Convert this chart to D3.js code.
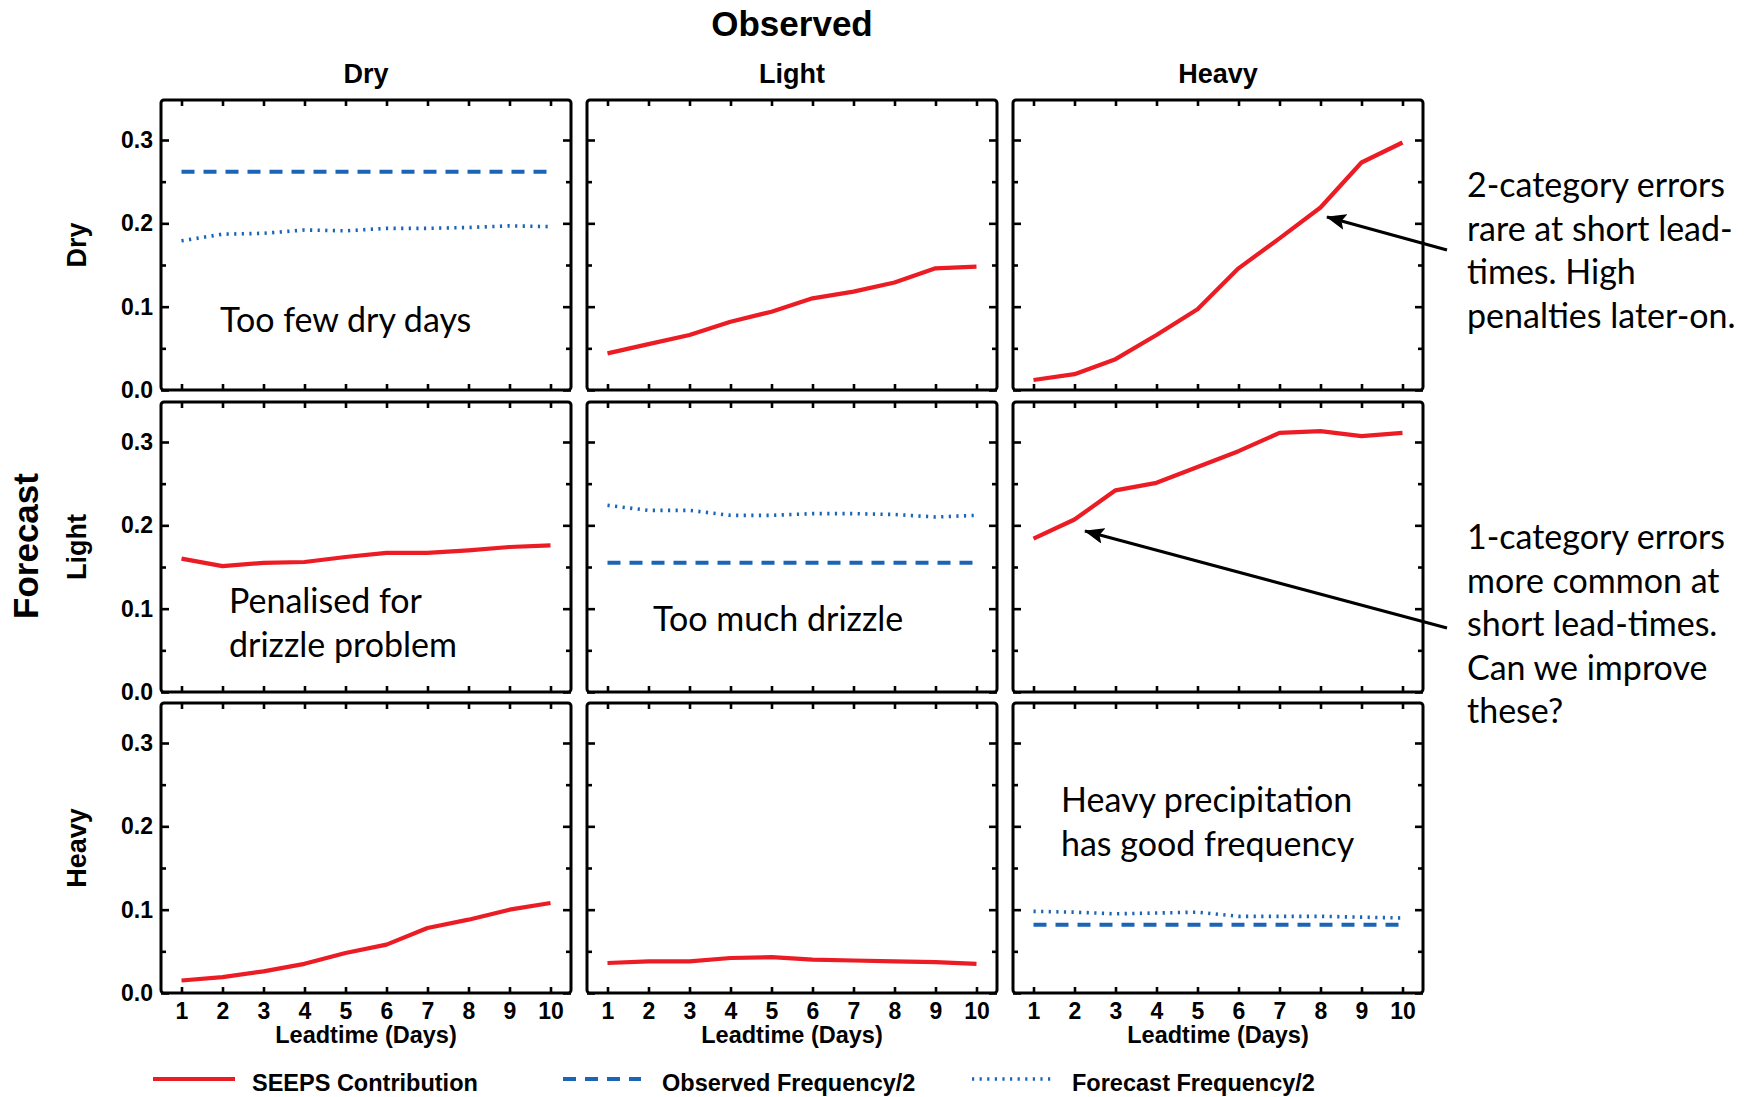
<!DOCTYPE html>
<html>
<head>
<meta charset="utf-8">
<script src="https://cdn.jsdelivr.net/npm/d3@7"></script>
<style>
  html, body { margin: 0; padding: 0; background: #fff; }
  svg { display: block; }
  .axis .tick text { font-family: "Liberation Sans", Arial, sans-serif; font-weight: bold; font-size: 23px; fill: #000; }
  .axis .tick line { stroke: #000; stroke-width: 2.6; }
  .axis path.domain { display: none; }
  .lbl { font-family: "Liberation Sans", Arial, sans-serif; font-weight: bold; fill: #000; }
  .note { font-family: Lato, "Open Sans", sans-serif; fill: #000; }
</style>
</head>
<body>
<svg id="chart" width="1756" height="1097"></svg>
<script>
// ---- data ---------------------------------------------------------------
const leadtimes = [1, 2, 3, 4, 5, 6, 7, 8, 9, 10];
const categories = ["Dry", "Light", "Heavy"];
const yMajorTicks = [0.0, 0.1, 0.2, 0.3];
const yMinorTicks = [0.05, 0.15, 0.25];

// SEEPS contribution per forecast/observed category pair
const seepsFcDryObsLight   = [0.044, 0.055, 0.066, 0.082, 0.094, 0.110, 0.118, 0.129, 0.146, 0.148];
const seepsFcDryObsHeavy   = [0.012, 0.019, 0.037, 0.066, 0.097, 0.146, 0.182, 0.219, 0.273, 0.297];
const seepsFcLightObsDry   = [0.160, 0.151, 0.155, 0.156, 0.162, 0.167, 0.167, 0.170, 0.174, 0.176];
const seepsFcLightObsHeavy = [0.184, 0.207, 0.242, 0.251, 0.270, 0.289, 0.311, 0.313, 0.307, 0.311];
const seepsFcHeavyObsDry   = [0.015, 0.019, 0.026, 0.035, 0.048, 0.058, 0.078, 0.088, 0.100, 0.108];
const seepsFcHeavyObsLight = [0.036, 0.038, 0.038, 0.042, 0.043, 0.040, 0.039, 0.038, 0.037, 0.035];

// observed frequency / 2 (constant over lead time), per category
const obsFreqHalf = [0.262, 0.155, 0.082];
// forecast frequency / 2, per category
const fcFreqHalfDry   = [0.179, 0.187, 0.188, 0.192, 0.191, 0.194, 0.194, 0.195, 0.197, 0.196];
const fcFreqHalfLight = [0.224, 0.218, 0.218, 0.212, 0.212, 0.214, 0.214, 0.213, 0.210, 0.212];
const fcFreqHalfHeavy = [0.098, 0.097, 0.095, 0.096, 0.097, 0.092, 0.092, 0.092, 0.091, 0.090];

const legendLabels = ["SEEPS Contribution", "Observed Frequency/2", "Forecast Frequency/2"];

// seeps[forecast][observed]; null on the diagonal
const seeps = [
  [null, seepsFcDryObsLight, seepsFcDryObsHeavy],
  [seepsFcLightObsDry, null, seepsFcLightObsHeavy],
  [seepsFcHeavyObsDry, seepsFcHeavyObsLight, null]
];
const fcFreqHalf = [fcFreqHalfDry, fcFreqHalfLight, fcFreqHalfHeavy];

// ---- layout -------------------------------------------------------------
const RED = "#ec1c24", BLUE = "#1c64b6";
const panelX = [161, 587, 1013];
const panelY = [100, 402, 703];
const W = 410, H = 290;

const svg = d3.select("#chart");
svg.append("rect").attr("width", 1756).attr("height", 1097).attr("fill", "#fff");

const x = d3.scaleLinear().domain([0.5, 10.5]).range([0, W]);
const y = d3.scaleLinear().domain([0, 0.348]).range([H, 0]);
const line = d3.line().x((d, i) => x(leadtimes[i])).y(d => y(d));

const styles = {
  seeps: { stroke: RED, width: 4.2, dash: null },
  obs:   { stroke: BLUE, width: 4, dash: "13,9" },
  fc:    { stroke: BLUE, width: 3.6, dash: "2.2,5.4" }
};
function drawSeries(g, values, st) {
  g.append("path")
    .datum(values)
    .attr("d", line)
    .attr("fill", "none")
    .attr("stroke", st.stroke)
    .attr("stroke-width", st.width)
    .attr("stroke-dasharray", st.dash)
    .attr("stroke-linejoin", "round");
}

categories.forEach((fcCat, r) => {
  categories.forEach((obsCat, c) => {
    const g = svg.append("g").attr("transform", `translate(${panelX[c]},${panelY[r]})`);

    // data
    if (r === c) {
      drawSeries(g, leadtimes.map(() => obsFreqHalf[c]), styles.obs);
      drawSeries(g, fcFreqHalf[r], styles.fc);
    } else {
      drawSeries(g, seeps[r][c], styles.seeps);
    }

    // inward ticks on all four sides
    const showX = r === 2, showY = c === 0;
    g.append("g").attr("class", "axis").attr("transform", `translate(0,${H})`)
      .call(d3.axisBottom(x).tickValues(leadtimes).tickSize(-6).tickPadding(10)
        .tickFormat(showX ? d3.format("d") : () => ""));
    g.append("g").attr("class", "axis")
      .call(d3.axisTop(x).tickValues(leadtimes).tickSize(-6).tickFormat(() => ""));
    g.append("g").attr("class", "axis")
      .call(d3.axisLeft(y).tickValues(yMajorTicks).tickSize(-8).tickPadding(8)
        .tickFormat(showY ? d3.format(".1f") : () => ""));
    g.append("g").attr("class", "axis")
      .call(d3.axisLeft(y).tickValues(yMinorTicks).tickSize(-5).tickFormat(() => ""));
    g.append("g").attr("class", "axis").attr("transform", `translate(${W},0)`)
      .call(d3.axisRight(y).tickValues(yMajorTicks).tickSize(-8).tickFormat(() => ""));
    g.append("g").attr("class", "axis").attr("transform", `translate(${W},0)`)
      .call(d3.axisRight(y).tickValues(yMinorTicks).tickSize(-5).tickFormat(() => ""));

    // frame
    g.append("rect").attr("width", W).attr("height", H).attr("rx", 3)
      .attr("fill", "none").attr("stroke", "#000").attr("stroke-width", 3);

    if (showX) {
      g.append("text").attr("class", "lbl")
        .attr("x", W / 2).attr("y", H + 50).attr("text-anchor", "middle")
        .attr("font-size", 23.5).text("Leadtime (Days)");
    }
  });
});

// column / row headings
svg.append("text").attr("class", "lbl").attr("x", 792).attr("y", 36)
  .attr("text-anchor", "middle").attr("font-size", 35).text("Observed");
categories.forEach((cat, c) => {
  svg.append("text").attr("class", "lbl")
    .attr("x", panelX[c] + W / 2).attr("y", 83).attr("text-anchor", "middle")
    .attr("font-size", 27).text(cat);
  svg.append("text").attr("class", "lbl")
    .attr("transform", `translate(86,${panelY[c] + H / 2}) rotate(-90)`)
    .attr("text-anchor", "middle").attr("font-size", 27).text(cat);
});
svg.append("text").attr("class", "lbl")
  .attr("transform", `translate(38,546) rotate(-90)`)
  .attr("text-anchor", "middle").attr("font-size", 35).text("Forecast");

// legend
const legendItems = [
  { x0: 153, x1: 235, tx: 252, st: styles.seeps },
  { x0: 563, x1: 641, tx: 662, st: styles.obs },
  { x0: 972, x1: 1053, tx: 1072, st: styles.fc }
];
legendItems.forEach((it, i) => {
  svg.append("line").attr("x1", it.x0).attr("x2", it.x1).attr("y1", 1079).attr("y2", 1079)
    .attr("stroke", it.st.stroke).attr("stroke-width", it.st.width)
    .attr("stroke-dasharray", it.st.dash);
  svg.append("text").attr("class", "lbl").attr("x", it.tx).attr("y", 1091)
    .attr("font-size", 23.5).text(legendLabels[i]);
});

// annotations
const notes = [
  { x: 220, y: 332, lines: ["Too few dry days"] },
  { x: 229, y: 613, lines: ["Penalised for", "drizzle problem"] },
  { x: 653, y: 631, lines: ["Too much drizzle"] },
  { x: 1061, y: 812, lines: ["Heavy precipitation", "has good frequency"] },
  { x: 1467, y: 197, lines: ["2-category errors", "rare at short lead-", "times. High", "penalties later-on."] },
  { x: 1467, y: 549, lines: ["1-category errors", "more common at", "short lead-times.", "Can we improve", "these?"] }
];
const noteSize = 34, noteLead = 43.5;
notes.forEach(n => {
  const t = svg.append("text").attr("class", "note").attr("font-size", noteSize);
  n.lines.forEach((s, i) => {
    t.append("tspan").attr("x", n.x).attr("y", n.y + i * noteLead).text(s);
  });
});

// arrows
svg.append("defs").append("marker")
  .attr("id", "head").attr("markerUnits", "userSpaceOnUse")
  .attr("viewBox", "0 0 20 16").attr("refX", 19).attr("refY", 8)
  .attr("markerWidth", 20).attr("markerHeight", 16).attr("orient", "auto")
  .append("path").attr("d", "M0,0 L20,8 L0,16 L4,8 Z").attr("fill", "#000");
[[1447, 250, 1327, 217], [1447, 628, 1085, 531]].forEach(a => {
  svg.append("line").attr("x1", a[0]).attr("y1", a[1]).attr("x2", a[2]).attr("y2", a[3])
    .attr("stroke", "#000").attr("stroke-width", 3.2).attr("marker-end", "url(#head)");
});
</script>
</body>
</html>
